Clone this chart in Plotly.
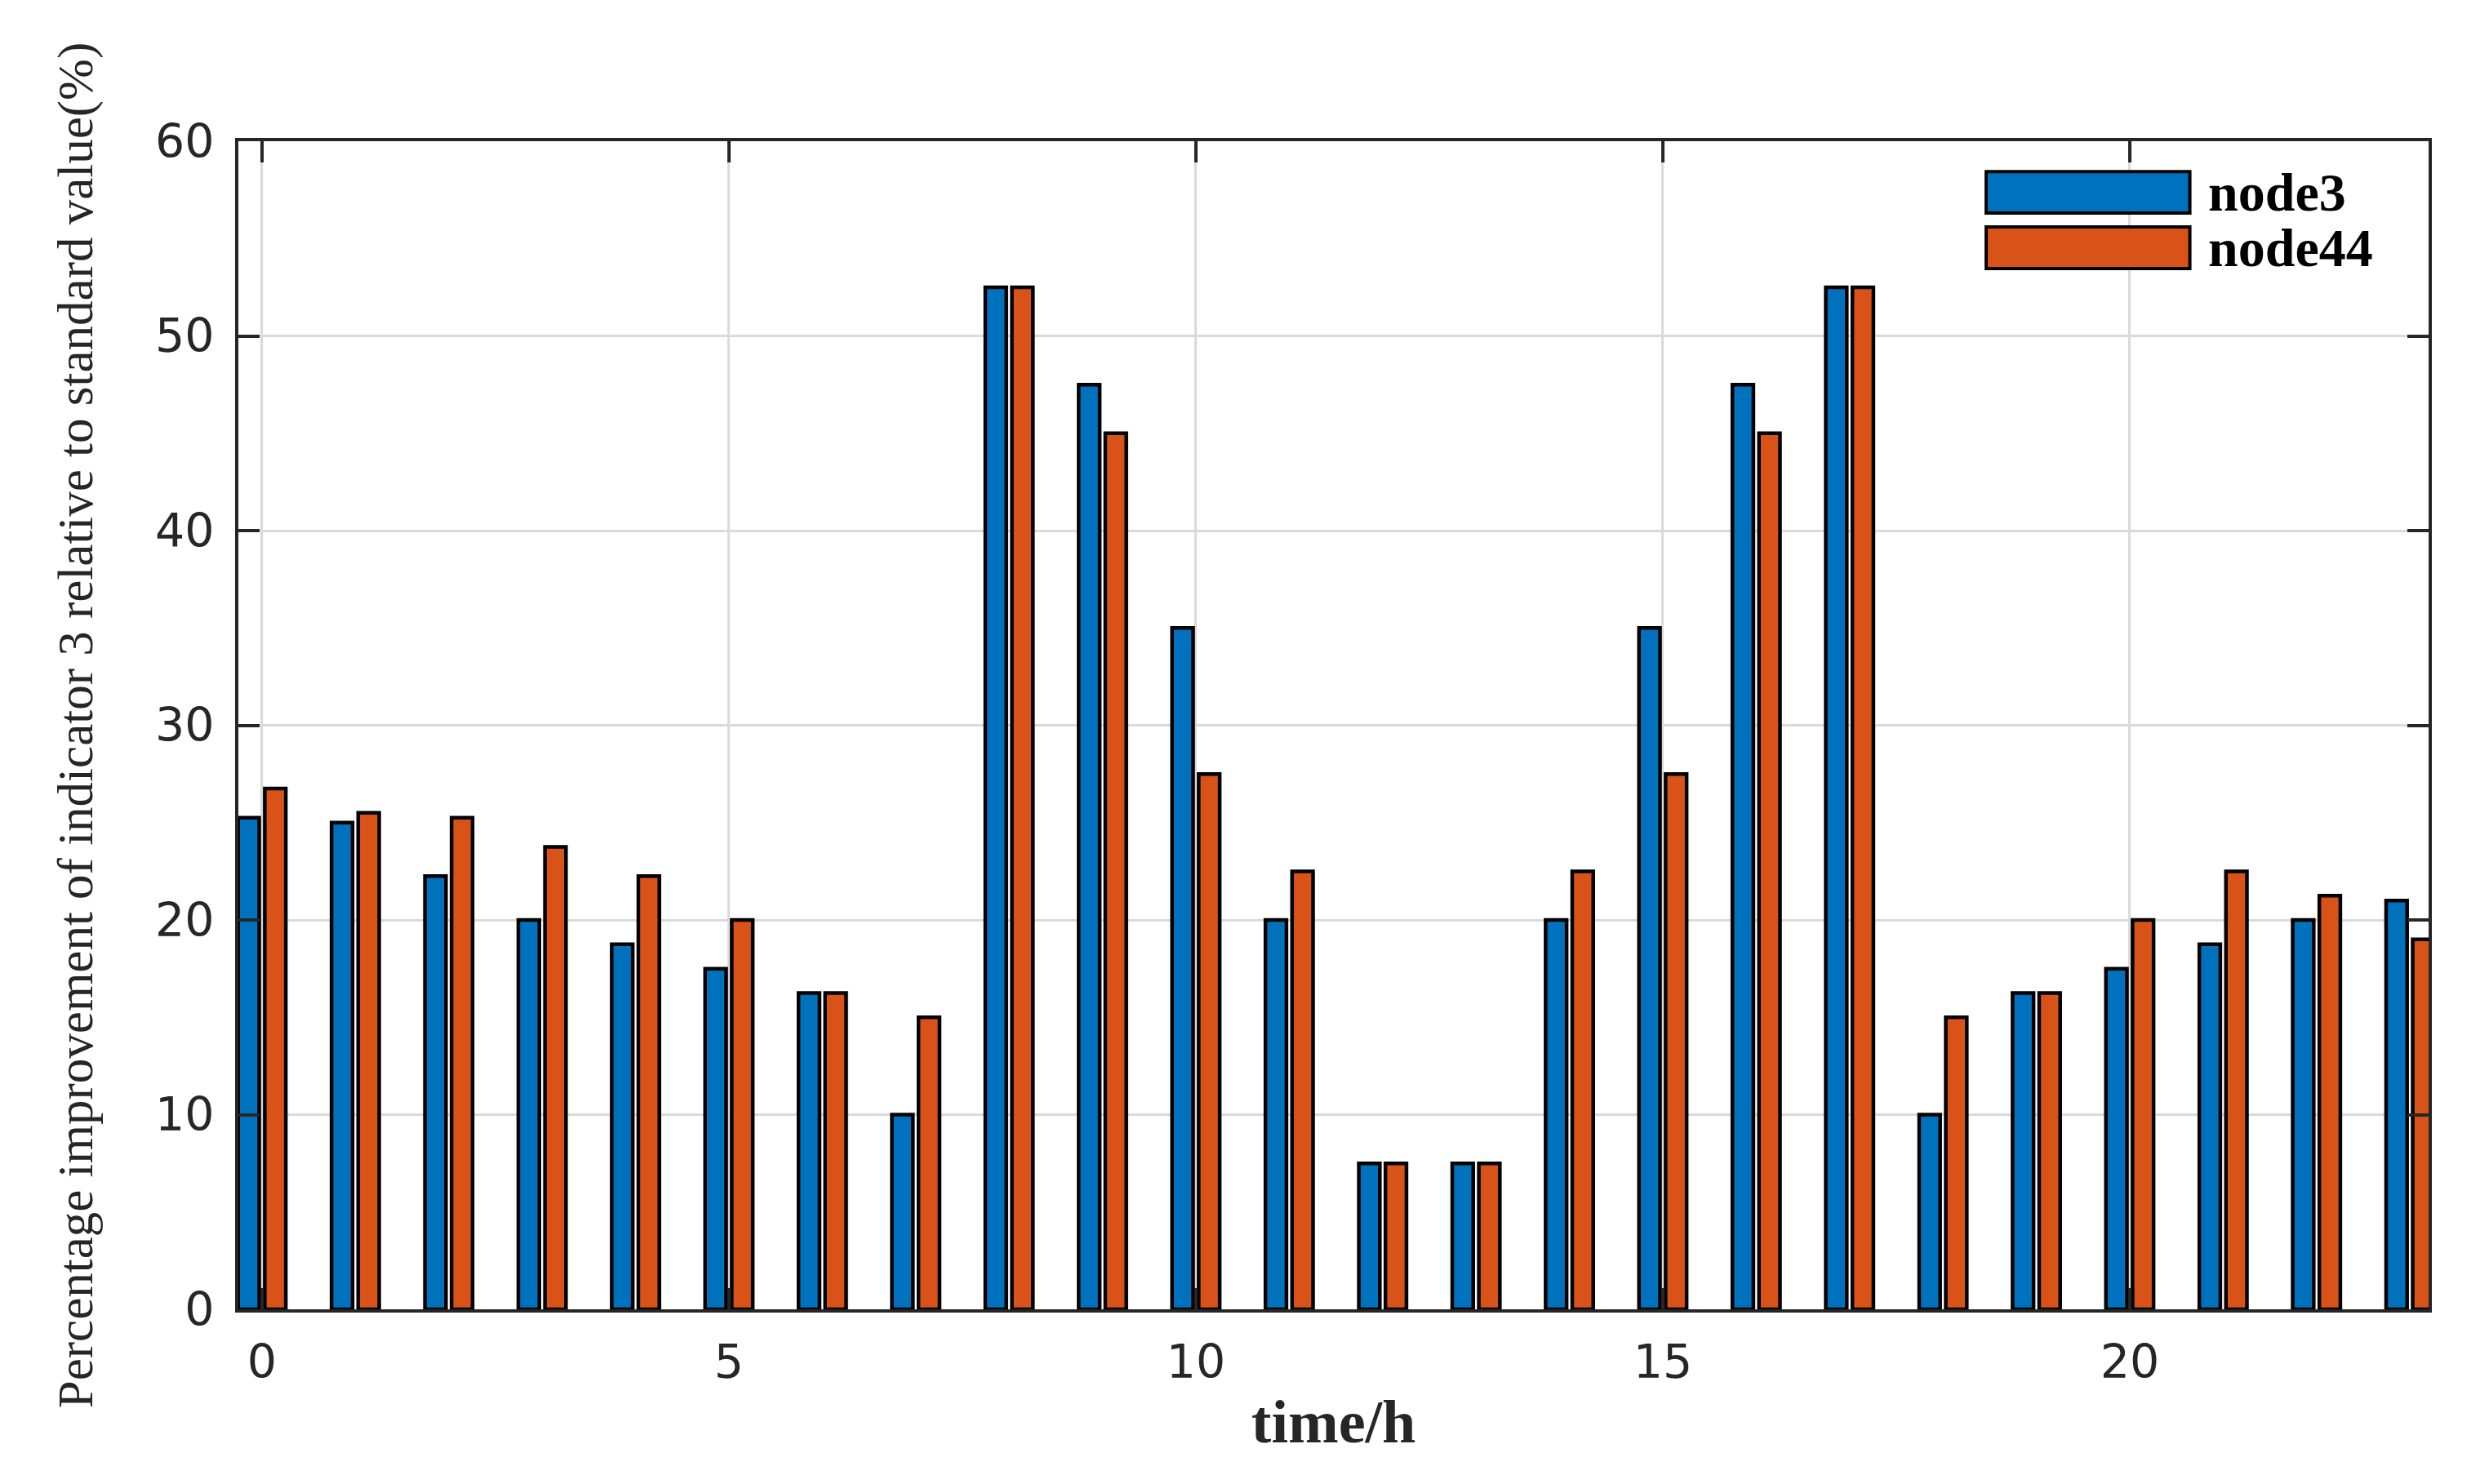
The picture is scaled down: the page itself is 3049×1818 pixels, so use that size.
import plotly.graph_objects as go

hours = list(range(24))
node3 = [25.25, 25.0, 22.25, 20.0, 18.75, 17.5, 16.25, 10.0, 52.5, 47.5, 35.0, 20.0,
         7.5, 7.5, 20.0, 35.0, 47.5, 52.5, 10.0, 16.25, 17.5, 18.75, 20.0, 21.0]
node44 = [26.75, 25.5, 25.25, 23.75, 22.25, 20.0, 16.25, 15.0, 52.5, 45.0, 27.5, 22.5,
          7.5, 7.5, 22.5, 27.5, 45.0, 52.5, 15.0, 16.25, 20.0, 22.5, 21.25, 19.0]
series_names = ["node3", "node44"]
series_colors = ["#0072BD", "#D95319"]
x_ticks = [0, 5, 10, 15, 20]
y_ticks = [0, 10, 20, 30, 40, 50, 60]

W, H = 3049, 1818
ML, MR, MT, MB = 292, 74, 173, 214

fig = go.Figure()
for name, vals, col in zip(series_names, [node3, node44], series_colors):
    fig.add_bar(x=hours, y=vals, name=name,
                marker=dict(color=col, line=dict(color="black", width=4.5)))

axis_common = dict(
    showline=True, linecolor="#262626", linewidth=4, mirror="ticks",
    ticks="inside", ticklen=26, tickwidth=4, tickcolor="#262626",
    showgrid=True, gridcolor="#dadada", gridwidth=3,
    zeroline=False,
    tickfont=dict(family="DejaVu Sans", size=57, color="#262626"),
)

fig.update_layout(
    width=W, height=H,
    margin=dict(l=ML, r=MR, t=MT, b=MB),
    paper_bgcolor="white", plot_bgcolor="white",
    barmode="group", bargap=0.43, bargroupgap=0.21,
    showlegend=False,
    xaxis=dict(range=[-0.253, 23.2], tickvals=x_ticks, ticklabelstandoff=12,
               title=dict(text="<b>time/h</b>", standoff=16,
                          font=dict(family="Liberation Serif", size=74, color="#262626")),
               **axis_common),
    yaxis=dict(range=[0, 60], tickvals=y_ticks, ticklabelstandoff=14,
               title=dict(text="Percentage improvement of indicator 3 relative to standard value(%)",
                          standoff=58,
                          font=dict(family="Liberation Serif", size=61, color="#262626")),
               **axis_common),
)

# custom legend (MATLAB-style long swatches, no box)
leg_x0, leg_x1, leg_tx = 0.798, 0.891, 0.8986
leg_rows = [(0.9385, 0.974), (0.891, 0.9266)]
for (y0, y1), name, col in zip(leg_rows, series_names, series_colors):
    fig.add_shape(type="rect", xref="paper", yref="paper",
                  x0=leg_x0, x1=leg_x1, y0=y0, y1=y1,
                  fillcolor=col, line=dict(color="black", width=4))
    fig.add_annotation(xref="paper", yref="paper", x=leg_tx, y=(y0 + y1) / 2,
                       text="<b>%s</b>" % name, showarrow=False,
                       xanchor="left", yanchor="middle",
                       font=dict(family="Liberation Serif", size=66, color="black"))

fig.write_html("out.html", config={"displayModeBar": False},
               post_script="document.body.style.margin='0';")
